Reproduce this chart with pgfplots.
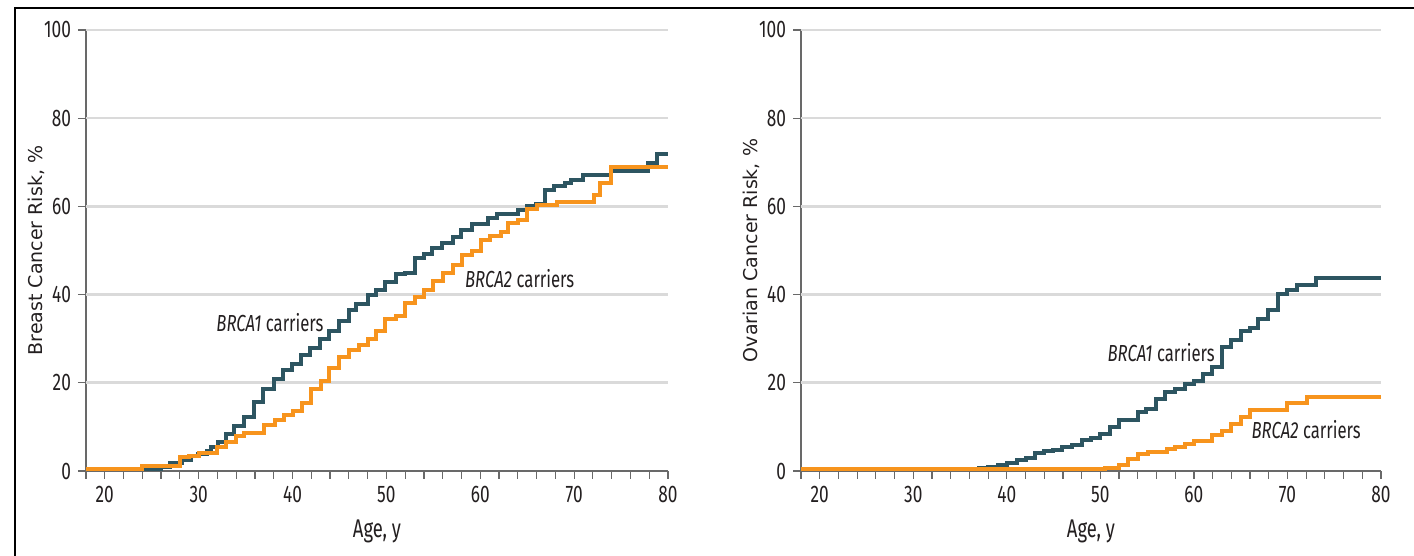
\documentclass[border=0pt]{standalone}
\usepackage{fontspec}
\usepackage{pgfplots}
\pgfplotsset{compat=1.18}
\newfontfamily\condfont[FakeStretch=0.72]{Fira Sans}
\newfontfamily\labfont{DejaVu Sans}
\definecolor{brcaone}{RGB}{45,85,97}
\definecolor{brcatwo}{RGB}{247,148,29}
\definecolor{gridgray}{RGB}{218,218,218}
\definecolor{axgray}{RGB}{105,105,105}
\definecolor{txt}{RGB}{35,31,32}

\pgfplotsset{
 riskaxis/.style={
  scale only axis, width=291pt, height=220.5pt,
  xmin=18, xmax=80, ymin=0, ymax=100,
  clip=false,
  axis x line=bottom, axis y line=left,
  axis line style={-, draw=axgray, line width=0.7pt},
  xtick={20,30,...,80}, minor xtick={18,20,...,80},
  ytick={0,20,...,100},
  extra y ticks={20,40,60,80,100}, extra y tick labels={},
  extra y tick style={grid=major, major tick length=0pt},
  major grid style={draw=gridgray, line width=1.3pt},
  tick align=outside,
  major tick length=4pt, minor tick length=4pt,
  tick style={draw=axgray, line width=0.6pt},
  ticklabel style={font=\condfont\fontsize{12}{14}\selectfont, text=txt},
  /pgf/number format/assume math mode=true,
  xlabel={Age, y},
  xlabel style={font=\condfont\fontsize{12.8}{15}\selectfont, text=txt,
    at={(axis description cs:0.5,-0.138)}, anchor=center},
  ylabel style={font=\labfont\fontsize{9.5}{11}\selectfont, text=txt,
    at={(axis description cs:-0.086,0.5)}, anchor=center},
  every axis plot/.append style={const plot, line width=2pt, no marks},
 }
}

\begin{document}
\begin{tikzpicture}
\useasboundingbox (0,0) rectangle (707pt,278pt);
\draw[line width=1.2pt, black] (7.5pt,0) -- (7.5pt,274pt) -- (707pt,274pt);

\begin{axis}[riskaxis, at={(43pt,42.5pt)}, anchor=south west,
  ylabel={Breast Cancer Risk, \%}]
\addplot[brcaone] coordinates {
(18,0.4) (24.5,0.5) (26,0.8) (27,1.7) (28.2,2.6) (29.2,3.3) (29.9,3.8)
(30.9,4.5) (31.3,5.5) (32.1,6.5) (32.9,8.5) (33.8,10.1) (34.8,12.3)
(35.9,15.7) (36.9,18.7) (38,20.9) (39,22.8) (39.9,24.3) (40.9,26.3)
(41.9,27.9) (42.9,30) (43.9,31.7) (44.9,33.9) (46,36.5) (46.8,37.9)
(48,40) (48.9,41.1) (49.8,42.9) (51,44.6) (52,45) (53,48.2) (54,49.1)
(54.9,50.6) (55.9,51.8) (57.1,53.1) (57.9,54.6) (59.1,56) (60.8,57.4)
(61.8,58.2) (64,59.2) (65,60.2) (65.9,60.6) (66.9,63.8) (67.9,64.6)
(69,65.4) (69.7,66) (70.9,67.1) (73.9,68.1) (77.9,69.8) (78.8,71.9) (80,71.9)};
\addplot[brcatwo] coordinates {
(18,0.4) (24,1.2) (28,3.1) (29,3.3) (30,4.1) (32,5.5) (32.9,6.5) (34,7.9)
(34.8,8.7) (37,10.5) (38.1,11.5) (39.1,12.7) (40.1,13.7) (41,15.5)
(42,18.7) (43,20.5) (43.9,23.3) (45,25.9) (46,27.5) (47.1,28.5) (48,29.9)
(48.9,31.7) (49.9,34.5) (51,35.2) (52,38.1) (53,39.5) (54,41.1) (55,43.1)
(56,44.8) (57.1,46.7) (58.1,49) (59.1,49.8) (60.1,52.3) (61,53.4)
(62.2,54.2) (63,56.2) (64,57) (65,59.4) (66,60.4) (68.2,61.1) (72.1,62.6)
(72.8,65.3) (73.9,69) (80,69)};
\node[font=\condfont\fontsize{11.6}{13}\selectfont, text=txt] at (axis cs:37.6,33.6) {\textit{BRCA1} carriers};
\node[font=\condfont\fontsize{11.6}{13}\selectfont, text=txt] at (axis cs:64.2,43.6) {\textit{BRCA2} carriers};
\end{axis}

\begin{axis}[riskaxis, width=290pt, at={(400.5pt,42.5pt)}, anchor=south west,
  ylabel={Ovarian Cancer Risk, \%}]
\addplot[brcaone] coordinates {
(18,0.4) (36,0.5) (37,0.7) (38,1) (39.1,1.3) (40,1.8) (41.1,2.6) (42,2.9)
(43,4.1) (44,4.5) (44.9,4.7) (45.9,5.5) (47,5.8) (48,7.1) (49,7.5) (50,8.5)
(51,9.9) (52,11.5) (54,13.3) (54.9,14.1) (56,16.3) (56.9,17.9) (58,18.5)
(59,19.7) (60,20.3) (61,22.1) (61.9,23.5) (63,28.1) (64,29.7) (65,31.7)
(66,32.5) (66.9,34.5) (67.9,36.5) (69,40.1) (70,41.1) (71,42.1) (73,43.8)
(80,43.8)};
\addplot[brcatwo] coordinates {
(18,0.4) (50.5,0.7) (52,1.3) (53,2.7) (54,3.8) (55.1,4.2) (57.1,4.9) (58,5.4)
(59,6.1) (60,6.7) (61.9,8.1) (63,9.1) (64,10.7) (65,12.3) (66,13.9)
(70,15.5) (72.1,16.7) (80,16.7)};
\node[font=\condfont\fontsize{11.6}{13}\selectfont, text=txt] at (axis cs:56.5,26.9) {\textit{BRCA1} carriers};
\node[font=\condfont\fontsize{11.6}{13}\selectfont, text=txt] at (axis cs:72,9.4) {\textit{BRCA2} carriers};
\end{axis}
\end{tikzpicture}
\end{document}
